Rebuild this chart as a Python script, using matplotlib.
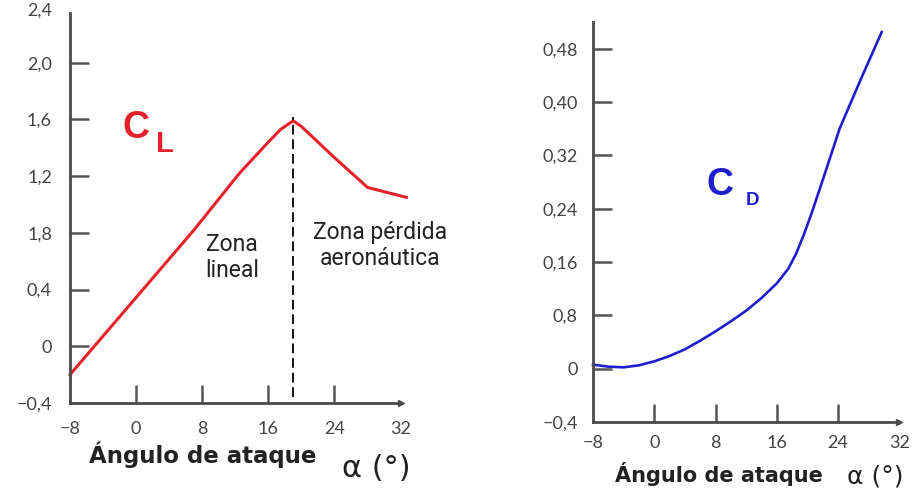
import matplotlib
matplotlib.use("Agg")
import matplotlib.pyplot as plt

# ---------------- data ----------------
alpha_cl = [-8, 7, 12.5, 16, 17.5, 19, 20, 24, 28, 32.7]
cl = [-0.2, 0.82, 1.22, 1.44, 1.53, 1.59, 1.55, 1.33, 1.12, 1.05]
stall_angle = 19

alpha_cd = [-8, -6, -4, -2, 0, 2, 4, 6, 8, 10, 12, 14, 16, 17.5, 18.5, 19.5,
            20.6, 22, 24.2, 27, 29.7]
cd = [0.006, 0.003, 0.002, 0.005, 0.011, 0.019, 0.029, 0.042, 0.056, 0.071,
      0.087, 0.106, 0.128, 0.15, 0.172, 0.20, 0.235, 0.283, 0.36, 0.435, 0.505]

x_ticks = [-8, 0, 8, 16, 24, 32]
x_tick_labels = ["−8", "0", "8", "16", "24", "32"]
cl_ticks = [-0.4, 0, 0.4, 0.8, 1.2, 1.6, 2.0, 2.4]
cl_tick_labels = ["−0,4", "0", "0,4", "1,8", "1,2", "1,6", "2,0", "2,4"]
cd_ticks = [-0.08, 0, 0.08, 0.16, 0.24, 0.32, 0.40, 0.48]
cd_tick_labels = ["−0,4", "0", "0,8", "0,16", "0,24", "0,32", "0,40", "0,48"]

x_label = "Ángulo de ataque"
alpha_label = "α (°)"

# ---------------- style ----------------
W, H = 916, 494
RED = "#e5222b"
BLUE = "#1e1ecc"
AX = "#4a4a4a"
TICKC = "#555555"
LABC = "#444444"
TXT = "#222222"
TICKFONT = ["Lato", "DejaVu Sans"]


def fx(px):
    return px / W


def fy(py):
    return 1 - py / H


fig = plt.figure(figsize=(W / 100, H / 100), dpi=100)
fig.patch.set_facecolor("white")


def style_axes(ax, ylo, xpad, ypad):
    for s in ("top", "right"):
        ax.spines[s].set_visible(False)
    for s in ("left", "bottom"):
        ax.spines[s].set_color(AX)
        ax.spines[s].set_linewidth(2)
    ax.spines["bottom"].set_bounds(-8, 32)
    ax.plot([32], [ylo], marker=">", ms=5, color=AX, clip_on=False, zorder=5)
    ax.set_xticks(x_ticks)
    ax.set_xticklabels(x_tick_labels, family=TICKFONT)
    ax.tick_params(axis="x", direction="in", length=13, width=1.8,
                   color=TICKC, pad=xpad, labelsize=13, labelcolor=LABC)
    ax.tick_params(axis="y", direction="in", length=14, width=1.8,
                   color=TICKC, pad=ypad, labelsize=13, labelcolor=LABC)
    xt = ax.xaxis.get_major_ticks()
    xt[0].tick1line.set_visible(False)
    xt[-1].tick1line.set_visible(False)
    ax.set_facecolor("none")


# ---------------- left: CL ----------------
axL = fig.add_axes([fx(70), fy(403), 343 / W, 390 / H])
axL.set_xlim(-8, 33.5)
axL.set_ylim(-0.4, 2.35)
axL.set_yticks(cl_ticks[:-1])
axL.set_yticklabels(cl_tick_labels[:-1], family=TICKFONT)
style_axes(axL, -0.4, 13, 13)
axL.yaxis.get_major_ticks()[0].tick1line.set_visible(False)
axL.annotate(cl_tick_labels[-1], xy=(0, cl_ticks[-1]),
             xycoords=axL.get_yaxis_transform(), xytext=(-13, -3.5),
             textcoords="offset points", ha="right", va="center",
             fontsize=13, color=LABC, family=TICKFONT, annotation_clip=False)

axL.plot(alpha_cl, cl, color=RED, lw=2.2, solid_joinstyle="round", clip_on=False)
axL.vlines(stall_angle, -0.36, 1.62, colors="#111111", lw=1.4,
           linestyles=(0, (5, 2.5)))

fig.text(fx(122), fy(138), "C", color=RED, fontsize=27, weight="bold",
         family="Liberation Sans", va="baseline")
fig.text(fx(156), fy(152), "L", color=RED, fontsize=21, weight="bold",
         family="Liberation Sans", va="baseline")

fig.text(fx(232), fy(233), "Zona\nlineal", ha="center", va="top",
         multialignment="center", fontsize=16.5, family="Roboto", color=TXT,
         linespacing=1.15)
fig.text(fx(380), fy(221), "Zona pérdida\naeronáutica", ha="center",
         va="top", multialignment="center", fontsize=16.5, family="Roboto",
         color=TXT, linespacing=1.15)

fig.text(fx(89), fy(463), x_label, fontsize=16.5, weight="bold",
         family="DejaVu Sans", color=TXT, va="baseline")
fig.text(fx(342), fy(477), alpha_label, fontsize=22, family="DejaVu Sans",
         color=TXT, va="baseline")

# ---------------- right: CD ----------------
axR = fig.add_axes([fx(593), fy(422), 314 / W, 400 / H])
axR.set_xlim(-8, 33)
axR.set_ylim(-0.08, 0.52)
axR.set_yticks(cd_ticks)
axR.set_yticklabels(cd_tick_labels, family=TICKFONT)
style_axes(axR, -0.08, 9.5, 11)
axR.yaxis.get_major_ticks()[0].tick1line.set_visible(False)

axR.plot(alpha_cd, cd, color=BLUE, lw=1.9, solid_joinstyle="round",
         clip_on=False)

fig.text(fx(706), fy(195), "C", color=BLUE, fontsize=27, weight="bold",
         family="Liberation Sans", va="baseline")
fig.text(fx(746), fy(205), "D", color=BLUE, fontsize=13.5, weight="bold",
         family="Liberation Sans", va="baseline")

fig.text(fx(615), fy(482), x_label, fontsize=15, weight="bold",
         family="DejaVu Sans", color=TXT, va="baseline")
fig.text(fx(847), fy(483), alpha_label, fontsize=18, family="DejaVu Sans",
         color=TXT, va="baseline")

fig.savefig("out.png", dpi=100)
